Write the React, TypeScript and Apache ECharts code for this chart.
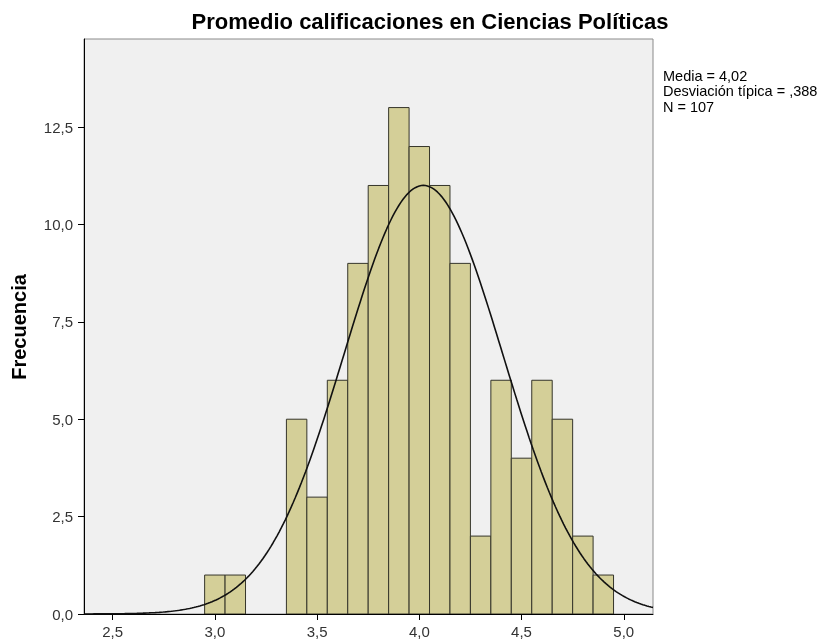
import React, { useEffect, useRef } from "react";
import * as echarts from "echarts";

// Histogram bins (lower edge) and their frequencies
const binLower = [2.95, 3.05, 3.35, 3.45, 3.55, 3.65, 3.75, 3.85, 3.95, 4.05, 4.15, 4.25, 4.35, 4.45, 4.55, 4.65, 4.75, 4.85];
const counts = [1, 1, 5, 3, 6, 9, 11, 13, 12, 11, 9, 2, 6, 4, 6, 5, 2, 1];
const binWidth = 0.1;

// Summary statistics shown in the chart
const mean = 4.02;
const sd = 0.388;
const n = 107;

const xTicks = [2.5, 3.0, 3.5, 4.0, 4.5, 5.0];
const yTicks = [0, 2.5, 5.0, 7.5, 10.0, 12.5];
const xMin = 2.36;
const xMax = 5.143;
const yMax = 14.76;

const title = "Promedio calificaciones en Ciencias Políticas";
const yName = "Frecuencia";
const statsLines = ["Media = 4,02", "Desviación típica = ,388", "N = 107"];

const fmt = (v: number) => v.toFixed(1).replace(".", ",");

export default function App() {
  const ref = useRef<HTMLDivElement>(null);
  useEffect(() => {
    if (!ref.current) return;
    const chart = echarts.init(ref.current, undefined, { renderer: "svg" });
    const barData = binLower.map((b, i) => [b, +(b + binWidth).toFixed(2), counts[i]]);
    // fitted normal curve from the stated mean / sd / N
    const curve: number[][] = [];
    const steps = 280;
    for (let i = 0; i <= steps; i++) {
      const x = xMin + ((xMax - xMin) * i) / steps;
      const y = (n * binWidth) / (sd * Math.sqrt(2 * Math.PI)) * Math.exp(-0.5 * ((x - mean) / sd) ** 2);
      curve.push([x, y]);
    }
    const font = "'Liberation Sans', Arial, sans-serif";
    chart.setOption({
      animation: false,
      textStyle: { fontFamily: font },
      grid: {
        left: 84,
        top: 39,
        width: 569,
        height: 575,
        show: true,
        backgroundColor: "#f0f0f0",
        borderColor: "#8a8a8a",
        borderWidth: 1,
      },
      xAxis: {
        type: "value",
        min: xMin,
        max: xMax,
        splitLine: { show: false },
        axisLine: { show: true, onZero: false, lineStyle: { color: "#000", width: 1 } },
        axisTick: { show: true, inside: false, length: 6, customValues: xTicks, lineStyle: { color: "#000" } },
        axisLabel: { customValues: xTicks, formatter: fmt, color: "#333", fontSize: 15, margin: 10, fontFamily: font },
      },
      yAxis: {
        type: "value",
        min: 0,
        max: yMax,
        splitLine: { show: false },
        axisLine: { show: true, lineStyle: { color: "#000", width: 1 } },
        axisTick: { show: true, inside: false, length: 6, customValues: yTicks, lineStyle: { color: "#000" } },
        axisLabel: { customValues: yTicks, formatter: fmt, color: "#333", fontSize: 15, margin: 11, fontFamily: font },
      },
      series: [
        {
          type: "custom",
          data: barData,
          encode: { x: [0, 1], y: 2 },
          clip: true,
          renderItem: (params: any, api: any) => {
            const p0 = api.coord([api.value(0), api.value(2)]);
            const p1 = api.coord([api.value(1), 0]);
            return {
              type: "rect",
              shape: { x: p0[0], y: p0[1], width: p1[0] - p0[0], height: p1[1] - p0[1] },
              style: { fill: "#d4cf98", stroke: "#35352a", lineWidth: 1 },
            };
          },
        },
        {
          type: "line",
          data: curve,
          showSymbol: false,
          symbol: "none",
          clip: true,
          lineStyle: { color: "#111", width: 1.6 },
          z: 5,
        },
      ],
      graphic: [
        {
          type: "text",
          x: 0,
          y: 0,
          style: {
            text: title,
            x: 430,
            y: 21,
            align: "center",
            verticalAlign: "middle",
            font: `bold 22px ${font}`,
            fill: "#000",
          },
        },
        {
          type: "text",
          x: 19,
          y: 327,
          rotation: Math.PI / 2,
          style: {
            text: yName,
            x: 0,
            y: 0,
            align: "center",
            verticalAlign: "middle",
            font: `bold 20px ${font}`,
            fill: "#000",
          },
        },
        {
          type: "text",
          x: 663,
          y: 68,
          style: {
            text: statsLines.join("\n"),
            font: `14.5px ${font}`,
            lineHeight: 15.5,
            fill: "#000",
          },
        },
      ],
    });
    return () => chart.dispose();
  }, []);
  return <div ref={ref} style={{ position: "fixed", left: 0, top: 0, width: 828, height: 643 }} />;
}
